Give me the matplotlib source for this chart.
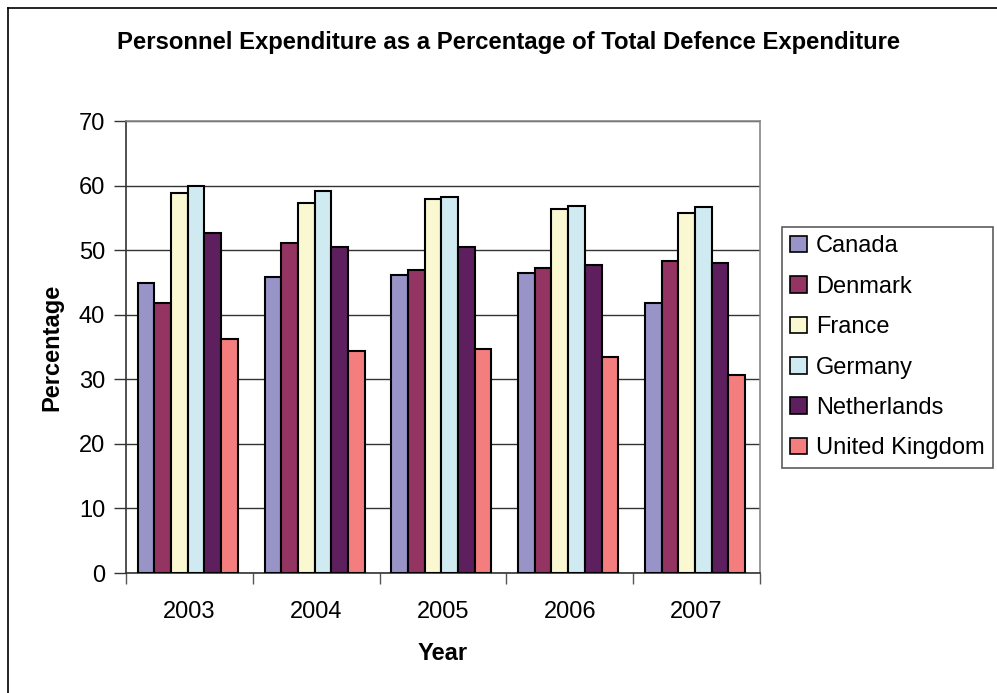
import matplotlib.pyplot as plt
import numpy as np
from matplotlib.lines import Line2D
from matplotlib.patches import Patch

plt.rcParams['font.family'] = ['Liberation Sans', 'DejaVu Sans']

years = ['2003', '2004', '2005', '2006', '2007']
canada = [44.9, 45.8, 46.2, 46.4, 41.8]
denmark = [41.8, 51.1, 47.0, 47.3, 48.3]
france = [58.8, 57.3, 57.9, 56.4, 55.7]
germany = [60.0, 59.2, 58.2, 56.9, 56.7]
netherlands = [52.6, 50.5, 50.5, 47.7, 48.0]
uk = [36.2, 34.4, 34.7, 33.4, 30.6]

countries = ['Canada', 'Denmark', 'France', 'Germany', 'Netherlands', 'United Kingdom']
series = [canada, denmark, france, germany, netherlands, uk]
colours = ['#9894c8', '#943462', '#faf8d0', '#cfeaf0', '#5e1f5e', '#f47e7e']

fig = plt.figure(figsize=(9.97, 6.93), dpi=100)
W, H = 997, 693

# frame line on left and top edge
fig.add_artist(Line2D([8 / W, 8 / W], [0, 1 - 8 / H], color='black', lw=1.2))
fig.add_artist(Line2D([8 / W, 1], [1 - 8 / H, 1 - 8 / H], color='black', lw=1.2))

ax = fig.add_axes([126 / W, (H - 573) / H, 634 / W, (573 - 121) / H])

x = np.arange(len(years))
bw = 0.1315
for i, (vals, c, name) in enumerate(zip(series, colours, countries)):
    ax.bar(x + (i - 2.5) * bw - 0.013, vals, bw, color=c, edgecolor='black',
           linewidth=1.5, label=name, zorder=3)

ax.set_xlim(-0.5, len(years) - 0.5)
ax.set_ylim(0, 70)
ax.set_yticks(range(0, 71, 10))
ax.yaxis.grid(True, color='#333333', linewidth=1, zorder=0)

# category ticks sit between groups, labels at group centres
ax.set_xticks(np.arange(-0.5, len(years)), minor=False)
ax.set_xticklabels([])
ax.set_xticks(x, minor=True)
ax.set_xticklabels(years, minor=True)
ax.tick_params(axis='x', which='major', direction='out', length=8, width=1, color='#555555')
ax.tick_params(axis='x', which='minor', length=0, pad=20, labelsize=17)
ax.tick_params(axis='y', direction='out', length=9, width=1, color='#333333', labelsize=17, pad=6)

ax.spines['left'].set_color('#333333')
ax.spines['bottom'].set_color('#333333')
ax.spines['top'].set_color('#888888')
ax.spines['right'].set_color('#888888')
for s in ax.spines.values():
    s.set_linewidth(1.2)

ax.set_xlabel('Year', fontsize=17, fontweight='bold', labelpad=14)
ax.set_ylabel('Percentage', fontsize=17, fontweight='bold', labelpad=11)

fig.text(509 / W, 1 - 43 / H, 'Personnel Expenditure as a Percentage of Total Defence Expenditure',
         ha='center', va='center', fontsize=17.2, fontweight='bold')

handles = [Patch(facecolor=c, edgecolor='black', linewidth=1.2) for c in colours]
leg = fig.legend(handles, countries, loc='upper left',
                 bbox_to_anchor=(782 / W, 1 - 227 / H), fontsize=17,
                 frameon=True, fancybox=False, edgecolor='#333333',
                 handlelength=0.7, handleheight=0.7, handletextpad=0.4,
                 labelspacing=0.78, borderpad=0.35, borderaxespad=0)
leg.get_frame().set_linewidth(1.2)

fig.savefig('out.png', dpi=100)
